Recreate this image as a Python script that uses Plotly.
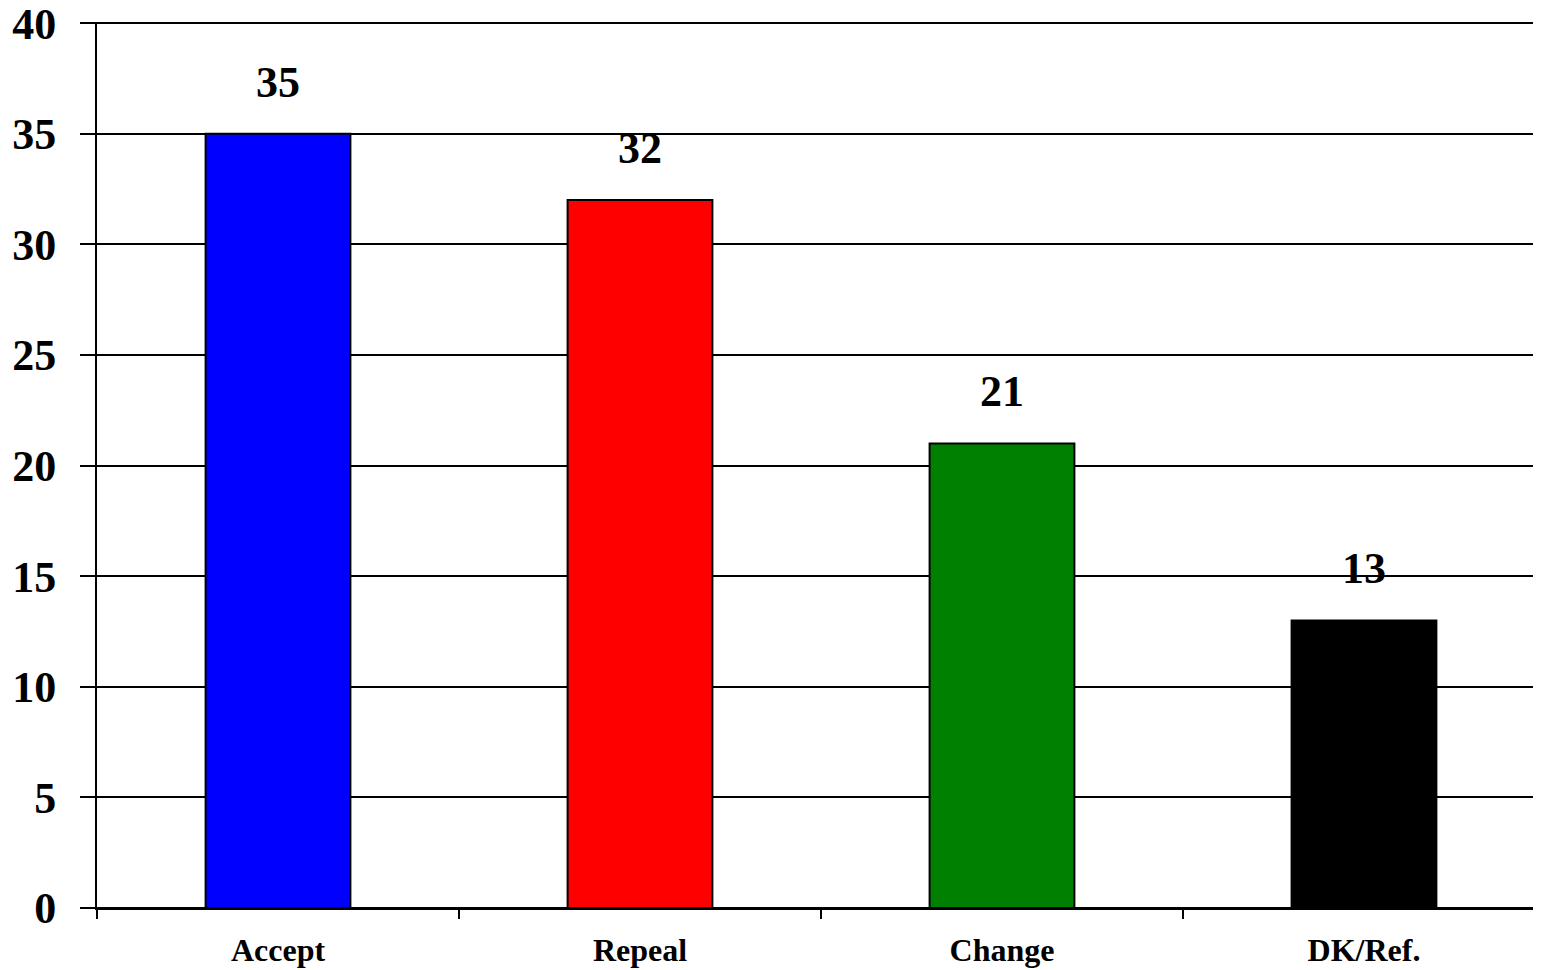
import plotly.graph_objects as go

categories = ["Accept", "Repeal", "Change", "DK/Ref."]
values = [35, 32, 21, 13]
bar_colors = ["#0000ff", "#ff0000", "#008000", "#000000"]
y_ticks = [0, 5, 10, 15, 20, 25, 30, 35, 40]

FONT = "Liberation Serif, Times New Roman, serif"

fig = go.Figure()
fig.add_trace(go.Bar(
    x=categories, y=values,
    marker=dict(color=bar_colors, line=dict(color="black", width=2)),
    width=0.40,
    textposition="none",
    hoverinfo="skip",
))

for c, v in zip(categories, values):
    fig.add_annotation(x=c, y=v, text="<b>%d</b>" % v, showarrow=False,
                       yanchor="bottom", yshift=25,
                       font=dict(family=FONT, size=44, color="black"))

fig.update_layout(
    width=1533, height=962,
    margin=dict(l=89, r=0, t=14, b=62, autoexpand=False),
    paper_bgcolor="white", plot_bgcolor="white",
    showlegend=False,
    font=dict(family=FONT, color="black"),
)
fig.update_xaxes(
    type="category",
    range=[-0.5, 3.489],
    tickson="boundaries",
    ticks="outside", ticklen=9, tickwidth=2, tickcolor="black",
    showline=True, linecolor="black", linewidth=2,
    showgrid=False,
    tickfont=dict(family=FONT, size=32, color="black"),
    tickvals=categories,
    ticktext=["<b>%s</b>" % c for c in categories],
    ticklabelstandoff=13,
    automargin=False,
)
fig.update_yaxes(
    range=[0, 40.05],
    tickvals=y_ticks,
    ticktext=["<b>%d</b>" % t for t in y_ticks],
    ticks="outside", ticklen=15, tickwidth=2, tickcolor="black",
    showline=True, linecolor="black", linewidth=2,
    showgrid=True, gridcolor="black", gridwidth=2,
    zeroline=True, zerolinecolor="black", zerolinewidth=2,
    tickfont=dict(family=FONT, size=44, color="black"),
    ticklabelstandoff=15,
    ticklabeloverflow="allow",
    automargin=False,
)

fig.write_html("out.html")
